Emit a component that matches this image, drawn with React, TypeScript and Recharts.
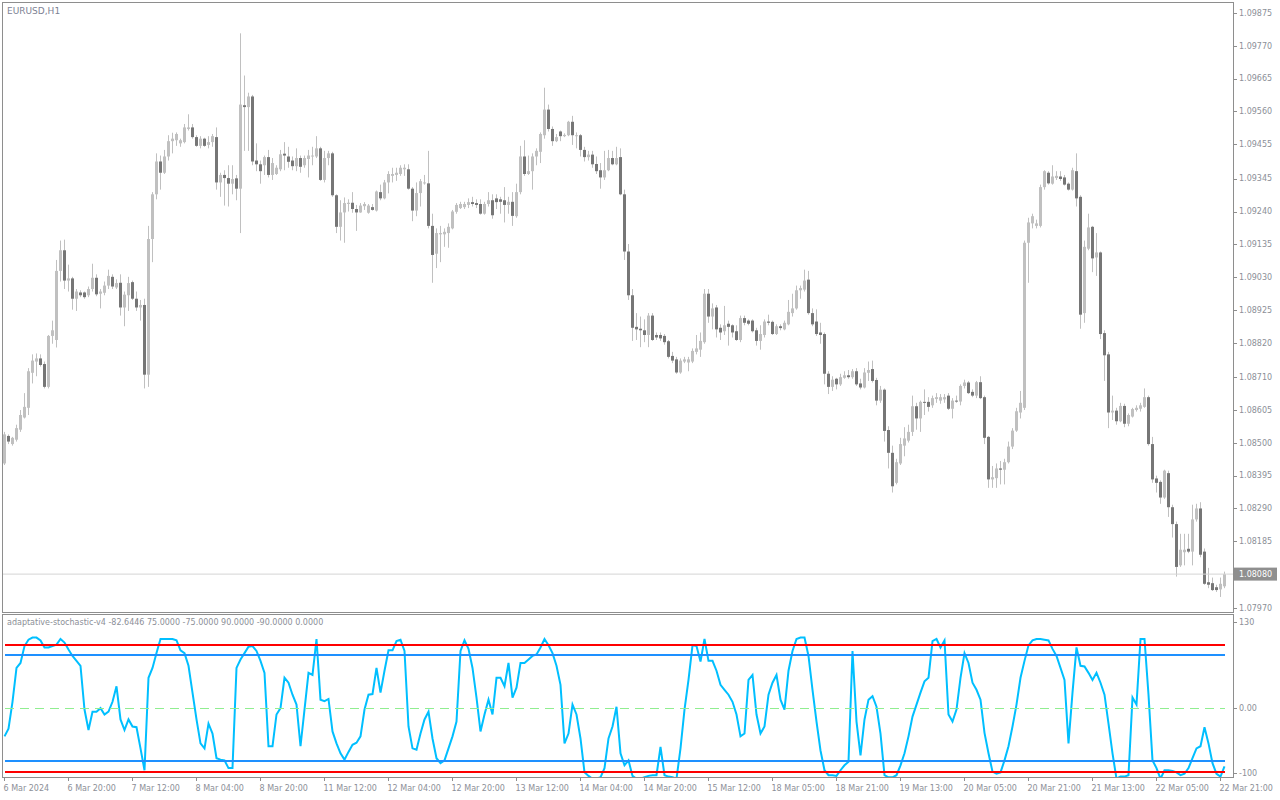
import React from "react";
import { ComposedChart, Bar, Line, XAxis, YAxis, ReferenceLine } from "recharts";

// MT4-style EURUSD H1 chart with an adaptive stochastic sub-window

const SYMBOL = "EURUSD,H1";
const INDICATOR_NAME = "adaptative-stochastic-v4";

// OHLC per H1 bar, in points above 1.08000 (1 point = 0.00001)
const OPEN = [
  434, 522, 496, 510, 542, 581, 612, 724, 760, 770,
  752, 679, 842, 829, 1050, 1116, 1019, 1026, 961, 981,
  981, 972, 992, 1028, 977, 980, 1003, 1031, 997, 1012,
  933, 972, 1014, 961, 933, 941, 718, 1152, 1295, 1400,
  1364, 1416, 1465, 1468, 1458, 1462, 1504, 1509, 1478, 1450,
  1473, 1453, 1462, 1478, 1333, 1357, 1347, 1329, 1346, 1313,
  1580, 1574, 1608, 1403, 1391, 1388, 1414, 1357, 1360, 1375,
  1425, 1416, 1403, 1385, 1411, 1388, 1408, 1416, 1416, 1442,
  1341, 1411, 1426, 1292, 1191, 1237, 1264, 1268, 1248, 1237,
  1257, 1236, 1254, 1243, 1302, 1282, 1333, 1354, 1357, 1360,
  1375, 1375, 1313, 1243, 1299, 1330, 1330, 1194, 1105, 1167,
  1167, 1171, 1186, 1239, 1251, 1254, 1261, 1270, 1267, 1264,
  1233, 1264, 1276, 1282, 1279, 1276, 1261, 1271, 1225, 1302,
  1416, 1360, 1369, 1416, 1431, 1484, 1566, 1504, 1465, 1496,
  1481, 1484, 1527, 1481, 1484, 1437, 1414, 1422, 1392, 1372,
  1349, 1372, 1411, 1391, 1414, 1295, 1112, 972, 871, 865,
  860, 845, 907, 845, 845, 842, 825, 778, 767, 725,
  760, 757, 760, 791, 798, 822, 977, 904, 933, 868,
  857, 881, 876, 857, 829, 899, 891, 891, 860, 826,
  845, 888, 887, 848, 873, 863, 879, 915, 930, 988,
  990, 1022, 915, 888, 853, 848, 721, 679, 705, 687,
  708, 716, 710, 729, 690, 677, 724, 736, 701, 635,
  670, 541, 468, 372, 434, 491, 507, 535, 617, 578,
  631, 631, 620, 640, 635, 639, 651, 609, 635, 632,
  682, 693, 663, 651, 694, 646, 519, 383, 387, 418,
  414, 438, 488, 539, 597, 612, 1140, 1202, 1194, 1194,
  1318, 1364, 1329, 1347, 1352, 1349, 1329, 1310, 1369, 1287,
  915, 1121, 1191, 1093, 1109, 851, 783, 597, 603, 569,
  618, 561, 584, 605, 609, 615, 646, 496, 386, 375,
  325, 403, 294, 240, 108, 150, 161, 152, 255, 290,
  152, 54, 51, 38, 31, 41,
];

const HIGH = [
  535, 527, 519, 558, 605, 659, 739, 783, 786, 783,
  760, 845, 891, 1085, 1147, 1150, 1070, 1031, 992, 988,
  984, 1000, 1073, 1039, 992, 1016, 1054, 1039, 1023, 1039,
  984, 1031, 1019, 984, 957, 961, 1194, 1302, 1426, 1419,
  1437, 1484, 1492, 1493, 1473, 1520, 1551, 1520, 1484, 1481,
  1476, 1481, 1488, 1509, 1364, 1372, 1388, 1388, 1357, 1810,
  1675, 1620, 1613, 1458, 1403, 1419, 1437, 1411, 1388, 1437,
  1462, 1447, 1416, 1442, 1419, 1419, 1437, 1447, 1481, 1447,
  1434, 1434, 1431, 1295, 1276, 1285, 1279, 1302, 1261, 1267,
  1270, 1264, 1264, 1307, 1326, 1341, 1369, 1380, 1380, 1388,
  1391, 1391, 1318, 1333, 1344, 1357, 1434, 1233, 1186, 1194,
  1186, 1202, 1245, 1267, 1271, 1271, 1282, 1287, 1279, 1279,
  1271, 1302, 1295, 1295, 1287, 1318, 1287, 1302, 1329, 1450,
  1468, 1419, 1426, 1442, 1493, 1636, 1582, 1512, 1488, 1499,
  1490, 1530, 1546, 1493, 1488, 1447, 1434, 1434, 1416, 1395,
  1434, 1437, 1434, 1447, 1442, 1310, 1136, 992, 915, 904,
  895, 915, 915, 853, 853, 848, 829, 791, 775, 770,
  775, 775, 802, 845, 853, 992, 992, 946, 941, 879,
  938, 891, 879, 876, 907, 907, 895, 895, 868, 876,
  895, 910, 891, 879, 879, 891, 957, 977, 1003, 1003,
  1054, 1050, 930, 927, 884, 853, 729, 713, 708, 721,
  729, 733, 736, 739, 705, 739, 760, 763, 708, 682,
  674, 553, 491, 449, 516, 550, 558, 651, 628, 635,
  671, 646, 651, 659, 656, 656, 659, 643, 651, 687,
  702, 698, 671, 698, 713, 651, 522, 426, 434, 442,
  449, 504, 547, 612, 666, 1147, 1220, 1233, 1214, 1326,
  1372, 1369, 1388, 1369, 1369, 1357, 1333, 1380, 1426, 1292,
  1147, 1233, 1194, 1171, 1112, 860, 791, 651, 612, 628,
  625, 594, 612, 620, 628, 674, 651, 519, 395, 380,
  414, 411, 302, 248, 209, 209, 209, 302, 305, 310,
  162, 100, 69, 46, 69, 88,
];

const LOW = [
  429, 496, 491, 504, 535, 578, 589, 690, 713, 744,
  674, 674, 817, 805, 1016, 992, 984, 926, 922, 966,
  961, 966, 984, 969, 930, 972, 992, 992, 992, 907,
  873, 922, 957, 922, 891, 674, 679, 1078, 1279, 1310,
  1360, 1403, 1426, 1450, 1447, 1458, 1499, 1473, 1447, 1442,
  1447, 1442, 1447, 1310, 1287, 1259, 1256, 1295, 1276, 1171,
  1434, 1434, 1388, 1369, 1329, 1357, 1349, 1341, 1357, 1369,
  1372, 1380, 1372, 1369, 1364, 1380, 1349, 1388, 1411, 1338,
  1333, 1388, 1287, 1171, 1147, 1140, 1240, 1236, 1178, 1236,
  1245, 1233, 1243, 1240, 1276, 1279, 1298, 1333, 1338, 1354,
  1354, 1310, 1209, 1225, 1256, 1326, 1186, 1012, 1059, 1078,
  1127, 1124, 1183, 1233, 1248, 1248, 1251, 1256, 1251, 1230,
  1230, 1256, 1217, 1248, 1233, 1205, 1233, 1194, 1220, 1295,
  1354, 1357, 1310, 1388, 1395, 1473, 1496, 1450, 1462, 1465,
  1478, 1481, 1453, 1442, 1416, 1400, 1403, 1380, 1360, 1313,
  1341, 1369, 1388, 1388, 1292, 1085, 957, 826, 829, 806,
  822, 806, 826, 829, 826, 814, 770, 755, 721, 721,
  755, 729, 755, 783, 775, 817, 884, 863, 837, 829,
  845, 811, 837, 826, 822, 876, 876, 853, 811, 798,
  837, 876, 845, 845, 860, 860, 876, 904, 926, 961,
  984, 910, 873, 842, 817, 687, 656, 666, 671, 682,
  705, 705, 705, 682, 671, 674, 698, 693, 620, 628,
  504, 418, 341, 367, 429, 457, 501, 522, 542, 535,
  589, 600, 612, 628, 625, 628, 605, 578, 628, 620,
  674, 656, 646, 643, 640, 496, 356, 356, 356, 367,
  367, 434, 480, 535, 578, 605, 1012, 1186, 1186, 1189,
  1310, 1326, 1326, 1341, 1338, 1323, 1307, 1307, 1256, 865,
  884, 1116, 1046, 1034, 832, 698, 547, 573, 558, 566,
  550, 553, 581, 600, 600, 612, 491, 372, 341, 305,
  321, 263, 197, 72, 103, 108, 147, 108, 248, 134,
  46, 35, 26, 23, 7, 35,
];

const CLOSE = [
  527, 504, 516, 547, 589, 615, 729, 763, 770, 749,
  679, 842, 860, 1050, 1116, 1019, 1026, 961, 984, 972,
  966, 992, 1028, 975, 984, 1003, 1034, 1000, 1011, 933,
  974, 1011, 961, 933, 941, 718, 1152, 1295, 1400, 1364,
  1416, 1465, 1473, 1488, 1468, 1509, 1509, 1478, 1450, 1473,
  1450, 1462, 1481, 1333, 1357, 1347, 1329, 1344, 1313, 1582,
  1574, 1608, 1400, 1391, 1369, 1414, 1357, 1395, 1380, 1423,
  1419, 1399, 1385, 1411, 1383, 1411, 1419, 1419, 1442, 1341,
  1411, 1426, 1292, 1191, 1237, 1267, 1268, 1248, 1237, 1259,
  1264, 1259, 1245, 1304, 1282, 1333, 1360, 1360, 1364, 1380,
  1380, 1313, 1243, 1299, 1337, 1333, 1194, 1101, 1171, 1171,
  1175, 1191, 1240, 1261, 1264, 1264, 1270, 1264, 1261, 1233,
  1264, 1276, 1228, 1270, 1271, 1261, 1271, 1226, 1302, 1416,
  1360, 1369, 1416, 1434, 1488, 1566, 1504, 1465, 1478, 1481,
  1485, 1527, 1484, 1484, 1437, 1414, 1422, 1391, 1369, 1349,
  1372, 1411, 1391, 1411, 1295, 1112, 972, 868, 863, 860,
  845, 907, 829, 837, 834, 822, 775, 763, 725, 763,
  767, 767, 794, 802, 826, 977, 904, 930, 863, 853,
  876, 871, 853, 829, 899, 884, 881, 857, 826, 848,
  888, 884, 848, 873, 867, 884, 919, 930, 988, 995,
  1019, 915, 879, 848, 845, 721, 679, 702, 687, 710,
  716, 710, 729, 687, 677, 725, 733, 698, 635, 670,
  538, 468, 361, 438, 496, 514, 535, 617, 578, 631,
  628, 615, 643, 646, 646, 646, 609, 635, 632, 682,
  693, 659, 651, 694, 643, 516, 383, 390, 418, 414,
  438, 488, 539, 601, 628, 1140, 1205, 1225, 1202, 1318,
  1369, 1330, 1352, 1354, 1344, 1326, 1310, 1372, 1282, 910,
  1127, 1189, 1090, 1109, 848, 780, 597, 603, 569, 618,
  561, 589, 608, 612, 620, 646, 496, 383, 372, 325,
  411, 294, 240, 103, 158, 158, 152, 255, 290, 142,
  49, 46, 29, 29, 49, 80,
];

// adaptive stochastic, one value per bar
const STOCH = [
  -40, -29, 9, 57, 64, 88, 97, 100, 100, 96,
  86, 86, 88, 90, 98, 93, 83, 74, 67, 60,
  -2, -31, -5, -5, 0, -9, -5, 9, 31, -16,
  -31, -16, -26, -27, -57, -88, 43, 57, 78, 98,
  98, 98, 98, 96, 82, 78, 60, 22, -16, -50,
  -57, -22, -36, -71, -73, -74, -85, -85, 57, 69,
  78, 87, 88, 81, 67, 50, -54, -54, -9, 0,
  43, 36, 19, 5, -54, -2, 50, 47, 98, 12,
  10, 13, -33, -50, -64, -73, -62, -52, -49, -40,
  -2, 19, 20, 57, 22, 53, 82, 82, 95, 97,
  81, -26, -57, -59, -36, -16, -5, -43, -71, -78,
  -74, -57, -40, -19, 81, 96, 84, 57, 15, -33,
  -9, 12, -9, 43, 43, 31, 64, 15, 29, 64,
  64, 69, 74, 76, 86, 98, 89, 78, 60, 33,
  -50, -36, 5, -9, -43, -91, -96, -100, -100, -98,
  -85, -43, -26, 2, -64, -81, -74, -96, -100, -100,
  -98, -96, -95, -95, -55, -95, -97, -98, -100, -57,
  -2, 40, 89, 88, 66, 98, 67, 67, 53, 33,
  26, 19, 9, -9, -40, -36, 40, 47, -9, -36,
  -26, 19, 36, 47, 12, -2, 53, 81, 98, 100,
  100, 74, 26, -19, -60, -88, -95, -95, -96, -88,
  -81, -76, 81, -19, -67, -16, 12, 17, 2, -36,
  -95, -98, -98, -95, -81, -64, -40, -12, 5, 22,
  38, 43, 95, 98, 86, 96, -9, -19, -2, 43,
  78, 64, 36, 26, 12, -35, -64, -90, -93, -91,
  -74, -54, -26, 5, 43, 67, 89, 96, 98, 98,
  97, 96, 84, 74, 57, 40, -50, 22, 86, 60,
  59, 50, 40, 50, 36, 19, -22, -64, -100, -97,
  -97, -95, 15, 5, 98, 98, 19, -74, -85, -100,
  -88, -88, -89, -91, -95, -93, -85, -71, -57, -54,
  -27, -50, -78, -93, -97, -82.6446,
];

// indicator level buffers: 75, -75, 90, -90, 0
const LEVELS = [75, -75, 90, -90, 0];

const PRICE_TICKS = [
  1.09875, 1.0977, 1.09665, 1.0956, 1.09455, 1.09345, 1.0924, 1.09135, 1.0903,
  1.08925, 1.0882, 1.0871, 1.08605, 1.085, 1.08395, 1.0829, 1.08185, 1.0797,
];
const STOCH_TICKS = [130, 0, -100];
const STOCH_TICK_LABELS = ["130", "0.00", "-100"];

const TIME_TICKS = [0, 16, 32, 48, 64, 80, 96, 112, 128, 144, 160, 176, 192, 208, 224, 240, 256, 272, 288, 304];
const TIME_LABELS = [
  "6 Mar 2024", "6 Mar 20:00", "7 Mar 12:00", "8 Mar 04:00", "8 Mar 20:00",
  "11 Mar 12:00", "12 Mar 04:00", "12 Mar 20:00", "13 Mar 12:00", "14 Mar 04:00",
  "14 Mar 20:00", "15 Mar 12:00", "18 Mar 05:00", "18 Mar 21:00", "19 Mar 13:00",
  "20 Mar 05:00", "20 Mar 21:00", "21 Mar 13:00", "22 Mar 05:00", "22 Mar 21:00",
];

const FONT = "'DejaVu Sans', Verdana, sans-serif";
const FRAME = "#8e8e8e";
const AXIS_TEXT = "#8c8f98";
const BULL = "#c0c0c0";
const BEAR = "#767676";
const WICK = "#c0c0c0";

const px = (v: number) => +(1.08 + v / 100000).toFixed(5);

const rows = OPEN.map((o, i) => ({
  i,
  o: px(o),
  h: px(HIGH[i]),
  l: px(LOW[i]),
  c: px(CLOSE[i]),
  hl: [px(LOW[i]), px(HIGH[i])],
  stoch: STOCH[i],
  up1: LEVELS[0],
  dn1: LEVELS[1],
  up2: LEVELS[2],
  dn2: LEVELS[3],
  mid: LEVELS[4],
}));

const lastClose = rows[rows.length - 1].c;
const lastStoch = STOCH[STOCH.length - 1];
const indicatorTitle = [INDICATOR_NAME, lastStoch.toFixed(4), ...LEVELS.map((v) => v.toFixed(4))].join(" ");

function Candle(props: any) {
  const { x, y, width, height, payload } = props;
  if (x == null || y == null) return null;
  const cx = Math.round(x + width / 2);
  const { o, h, l, c } = payload;
  const span = h - l || 1e-9;
  const yOf = (p: number) => y + ((h - p) / span) * height;
  const top = yOf(Math.max(o, c));
  const bot = yOf(Math.min(o, c));
  return (
    <g>
      <rect x={cx - 1} y={y} width={1} height={Math.max(height, 1)} fill={WICK} />
      <rect x={cx - 2} y={top} width={3} height={Math.max(bot - top, 1)} fill={c >= o ? BULL : BEAR} />
    </g>
  );
}

function PriceTick(props: any) {
  const { y, payload } = props;
  const yy = Math.round(y) + 0.5;
  return (
    <g>
      <line x1={1233} x2={1237} y1={yy} y2={yy} stroke={FRAME} />
      <text x={1239} y={y} dy="0.35em" fontSize={8} fontFamily={FONT} fill={AXIS_TEXT}>
        {Number(payload.value).toFixed(5)}
      </text>
    </g>
  );
}

function PriceBadge(props: any) {
  const vb = props.viewBox || {};
  const y = vb.y ?? 0;
  const right = (vb.x ?? 0) + (vb.width ?? 0);
  return (
    <g>
      <line x1={right} x2={1233} y1={y} y2={y} stroke="#d4d4d4" />
      <rect x={1234} y={y - 6.5} width={43} height={13} fill="#8f8f8f" />
      <text x={1239} y={y} dy="0.35em" fontSize={8} fontFamily={FONT} fill="#ffffff">
        {lastClose.toFixed(5)}
      </text>
    </g>
  );
}

function StochTick(props: any) {
  const { y, payload } = props;
  const k = STOCH_TICKS.indexOf(payload.value);
  const shift = payload.value === 130 ? 6 : payload.value === -100 ? -6 : 0;
  const yy = Math.round(y + shift) + 0.5;
  return (
    <g>
      <line x1={1233} x2={1237} y1={yy} y2={yy} stroke={FRAME} />
      <text x={1239} y={y + shift} dy="0.35em" fontSize={8} fontFamily={FONT} fill={AXIS_TEXT}>
        {STOCH_TICK_LABELS[k]}
      </text>
    </g>
  );
}

function TimeTick(props: any) {
  const { x, payload } = props;
  const k = TIME_TICKS.indexOf(payload.value);
  const xx = Math.floor(x) + 0.5;
  return (
    <g>
      <line x1={xx} x2={xx} y1={177} y2={181} stroke={FRAME} />
      <text x={xx - 1} y={188} dy="0.35em" fontSize={8} fontFamily={FONT} fill={AXIS_TEXT}>
        {TIME_LABELS[k]}
      </text>
    </g>
  );
}

export default function App() {
  const abs = (left: number, top: number, width: number, height: number): React.CSSProperties => ({
    position: "absolute",
    left,
    top,
    width,
    height,
    boxSizing: "border-box",
    border: `1px solid ${FRAME}`,
    pointerEvents: "none",
  });

  return (
    <div style={{ position: "absolute", left: 0, top: 0, width: 1280, height: 800, background: "#fff", fontFamily: FONT }}>
      {/* price window */}
      <div style={{ position: "absolute", left: 0, top: 0 }}>
        <ComposedChart width={1280} height={612} data={rows} margin={{ top: 3, right: 0, bottom: 1, left: 2.5 }}>
          <XAxis dataKey="i" type="category" scale="band" hide />
          <YAxis
            orientation="right"
            width={53.5}
            domain={[1.07962, 1.09907]}
            allowDataOverflow
            ticks={PRICE_TICKS}
            interval={0}
            axisLine={false}
            tickLine={false}
            tick={<PriceTick />}
          />
          <ReferenceLine y={lastClose} stroke="#d4d4d4" label={<PriceBadge />} />
          <Bar dataKey="hl" barSize={3} shape={<Candle />} isAnimationActive={false} />
        </ComposedChart>
      </div>

      {/* indicator window */}
      <div style={{ position: "absolute", left: 0, top: 600 }}>
        <ComposedChart width={1280} height={200} data={rows} margin={{ top: 15, right: 0, bottom: 0, left: 2.5 }}>
          <XAxis
            dataKey="i"
            type="category"
            scale="band"
            height={22}
            ticks={TIME_TICKS}
            interval={0}
            axisLine={false}
            tickLine={false}
            tick={<TimeTick />}
          />
          <YAxis
            orientation="right"
            width={53.5}
            domain={[-99, 132]}
            allowDataOverflow
            ticks={STOCH_TICKS}
            interval={0}
            axisLine={false}
            tickLine={false}
            tick={<StochTick />}
          />
          <Line dataKey="stoch" type="linear" stroke="#00bfff" strokeWidth={2} dot={false} isAnimationActive={false} />
          <Line dataKey="up1" type="linear" stroke="#1e90ff" strokeWidth={2} shapeRendering="crispEdges" dot={false} isAnimationActive={false} />
          <Line dataKey="dn1" type="linear" stroke="#1e90ff" strokeWidth={2} shapeRendering="crispEdges" dot={false} isAnimationActive={false} />
          <Line dataKey="up2" type="linear" stroke="#ff0000" strokeWidth={2} shapeRendering="crispEdges" dot={false} isAnimationActive={false} />
          <Line dataKey="dn2" type="linear" stroke="#ff0000" strokeWidth={2} shapeRendering="crispEdges" dot={false} isAnimationActive={false} />
          <Line dataKey="mid" type="linear" stroke="#90ee90" strokeWidth={1} strokeDasharray="9 6" shapeRendering="crispEdges" dot={false} isAnimationActive={false} />
        </ComposedChart>
      </div>

      {/* window frames */}
      <div style={abs(2, 2, 1232, 611)} />
      <div style={abs(2, 614, 1232, 164)} />

      <div style={{ position: "absolute", left: 7, top: 5, fontSize: 9, lineHeight: "12px", color: "#7d8294", whiteSpace: "nowrap" }}>
        {SYMBOL}
      </div>
      <div style={{ position: "absolute", left: 7, top: 617, fontSize: 8, lineHeight: "12px", color: "#8c8f98", whiteSpace: "nowrap" }}>
        {indicatorTitle}
      </div>
    </div>
  );
}
